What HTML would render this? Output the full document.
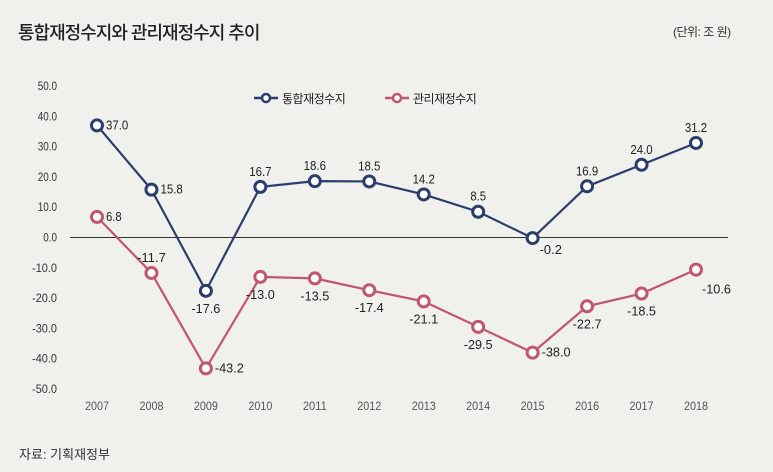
<!DOCTYPE html>
<html><head><meta charset="utf-8"><style>
body{margin:0;background:#f0f0ec;}
#wrap{position:relative;width:773px;height:472px;background:#f0f0ec;font-family:"Liberation Sans","Noto Sans CJK KR",sans-serif;}
.t{position:absolute;color:#222;}
</style></head><body>
<div id="wrap">
<div class="t" style="left:18px;top:19px;font-size:18px;font-family:'Liberation Sans','Noto Sans CJK KR',sans-serif;font-weight:500;letter-spacing:-1px;">통합재정수지와 관리재정수지 추이</div>
<div class="t" style="left:673px;top:23px;font-size:12px;font-family:'Liberation Sans','Noto Sans CJK KR',sans-serif;letter-spacing:-0.5px;color:#333;">(단위: 조 원)</div>
<div class="t" style="left:19px;top:444px;font-size:13px;font-family:'Liberation Sans','Noto Sans CJK KR',sans-serif;color:#333;">자료: 기획재정부</div>
<svg id="chart" width="773" height="472" style="position:absolute;left:0;top:0"></svg>
</div>
<script>
const years=["2007","2008","2009","2010","2011","2012","2013","2014","2015","2016","2017","2018"];
const consolidated=[37.0,15.8,-17.6,16.7,18.6,18.5,14.2,8.5,-0.2,16.9,24.0,31.2];
const managed=[6.8,-11.7,-43.2,-13.0,-13.5,-17.4,-21.1,-29.5,-38.0,-22.7,-18.5,-10.6];
const yTicks=[50,40,30,20,10,0,-10,-20,-30,-40,-50];
const seriesNames=["통합재정수지","관리재정수지"];
// label placement styles (not data)
const posC=["r","r","b","a","a","a","a","a","rb","a","a","a"];
const posM=["r","a","r","b","b","b","b","b","r","b","b","br"];

const svg=document.getElementById('chart');
const NS="http://www.w3.org/2000/svg";
const X=i=>97+i*(696-97)/11;
const Y=v=>237.5-v*3.03;
function el(tag,attrs,parent){const e=document.createElementNS(NS,tag);for(const k in attrs)e.setAttribute(k,attrs[k]);(parent||svg).appendChild(e);return e;}
const F='"Liberation Sans",sans-serif';
function narrow(t,s,w){const n=s.length,dots=(s.match(/\./g)||[]).length;t.setAttribute('textLength',(n-dots)*w+dots*2.5);t.setAttribute('lengthAdjust','spacingAndGlyphs');}

yTicks.forEach(v=>{
  const s=v.toFixed(1);
  const t=el('text',{x:57,y:Y(v)+4,'text-anchor':'end','font-size':12,fill:'#333','font-family':F});
  t.textContent=s;narrow(t,s,5.6);
  
  
});
years.forEach((y,i)=>{
  const t=el('text',{x:X(i),y:410,'text-anchor':'middle','font-size':12,fill:'#555','font-family':F});
  t.textContent=y;narrow(t,y,6);
  
  
});
const zl=el('line',{x1:70,x2:728,y1:Y(0),y2:Y(0),stroke:'#333','stroke-width':1});



function series(data,color,pos,name){
  const g=el('g',{});
  
  
  const p=el('polyline',{points:data.map((v,i)=>X(i)+','+Y(v)).join(' '),fill:'none',stroke:color,'stroke-width':2.2},g);
  
  
  data.forEach((v,i)=>{
    const c=el('circle',{cx:X(i),cy:Y(v),r:5.5,fill:'#fff',stroke:color,'stroke-width':3},g);
    
    
    let x=X(i),y=Y(v),a='middle';
    const ps=pos[i];
    if(ps==='r'){x+=9;y+=4;a='start';}
    else if(ps==='rb'){x+=7;y+=16;a='start';}
    else if(ps==='br'){x+=6;y+=24;a='start';}
    else if(ps==='a'){y-=11;}
    else {y+=22;}
    const s=v.toFixed(1);
    const t=el('text',{x:x,y:y,'text-anchor':a,'font-size':13,fill:'#222','font-family':F},g);
    t.textContent=s;narrow(t,s,6.6);
    
    
  });
}
series(managed,'#c0566f',posM,'managed');
series(consolidated,'#2b3d6b',posC,'consolidated');

[[254,'#2b3d6b'],[385,'#c0566f']].forEach((l,k)=>{
  const g=el('g',{});
  
  
  el('line',{x1:l[0],x2:l[0]+24,y1:98,y2:98,stroke:l[1],'stroke-width':2.5},g);
  el('circle',{cx:l[0]+12,cy:98,r:4,fill:'#fff',stroke:l[1],'stroke-width':2.5},g);
  const t=el('text',{x:l[0]+28,y:103,'font-size':12,fill:'#222','font-family':'"Liberation Sans","Noto Sans CJK KR",sans-serif','letter-spacing':'-0.5'},g);
  t.textContent=seriesNames[k];
});
</script>
</body></html>
